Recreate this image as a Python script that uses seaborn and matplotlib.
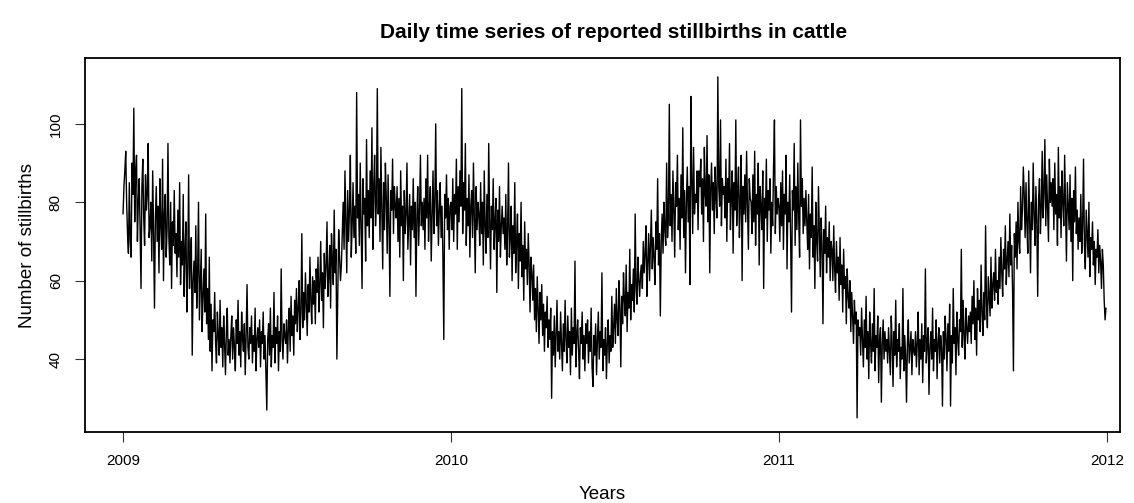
import numpy as np
import pandas as pd
import matplotlib
matplotlib.use("Agg")
import matplotlib.pyplot as plt
import seaborn as sns

# Daily reported stillbirths
stillbirths_2009 = [
    # Jan
    77, 84, 88, 93, 80, 72, 67, 85, 70, 66, 90, 82, 104, 75, 88, 92, 70, 80, 86, 73,
    58, 84, 91, 76, 69, 87, 78, 82, 95, 71, 74,
    # Feb
    80, 65, 88, 72, 53, 76, 84, 70, 79, 62, 86, 74, 68, 91, 60, 77, 82, 66, 73, 95,
    71, 64, 80, 58, 75, 69, 83, 67,
    # Mar
    72, 61, 78, 66, 85, 59, 70, 64, 82, 56, 68, 75, 52, 63, 87, 58, 66, 71, 41, 60,
    65, 57, 74, 53, 62, 80, 50, 59, 68, 47, 56,
    # Apr
    63, 52, 77, 49, 58, 45, 66, 42, 54, 37, 50, 47, 57, 44, 39, 52, 46, 41, 55, 43,
    48, 38, 51, 44, 36, 47, 53, 41, 45, 39,
    # May
    46, 51, 40, 48, 43, 37, 50, 44, 55, 41, 47, 38, 52, 45, 42, 49, 36, 46, 59, 43,
    40, 48, 44, 51, 39, 46, 42, 53, 37, 45, 48,
    # Jun
    43, 50, 38, 47, 44, 52, 40, 46, 36, 27, 45, 49, 41, 53, 38, 46, 43, 57, 39, 48,
    44, 51, 37, 47, 42, 63, 45, 40, 49, 46,
    # Jul
    44, 50, 39, 48, 53, 42, 56, 46, 51, 41, 55, 49, 58, 47, 53, 60, 45, 52, 72, 48,
    57, 50, 62, 54, 46, 59, 52, 66, 55, 49, 61,
    # Aug
    54, 60, 49, 63, 57, 66, 52, 59, 70, 55, 62, 48, 67, 58, 64, 75, 56, 61, 69, 53,
    72, 65, 59, 78, 62, 68, 40, 57, 73, 66, 60,
    # Sep
    64, 72, 80, 68, 88, 75, 62, 83, 70, 78, 92, 66, 74, 85, 71, 79, 67, 108, 76, 82,
    69, 90, 73, 58, 86, 77, 81, 65, 96, 74,
    # Oct
    83, 71, 88, 76, 99, 68, 84, 92, 74, 80, 109, 77, 86, 70, 94, 79, 63, 85, 73, 90,
    81, 67, 87, 75, 56, 83, 78, 91, 72, 84, 79,
    # Nov
    76, 84, 70, 81, 66, 88, 74, 79, 60, 83, 72, 77, 90, 68, 75, 82, 64, 79, 73, 86,
    71, 80, 56, 76, 84, 69, 78, 92, 74, 80,
    # Dec
    73, 81, 68, 86, 76, 92, 70, 79, 84, 65, 77, 88, 72, 80, 100, 74, 83, 69, 78, 85,
    71, 79, 66, 45, 82, 76, 87, 73, 81, 68, 79,
]

stillbirths_2010 = [
    # Jan
    80, 73, 86, 70, 82, 77, 91, 68, 84, 75, 88, 79, 109, 72, 85, 78, 95, 69, 81, 74,
    87, 66, 79, 83, 71, 90, 76, 62, 84, 73, 80,
    # Feb
    77, 69, 85, 72, 80, 64, 88, 74, 67, 82, 71, 95, 76, 63, 79, 73, 86, 68, 75, 81,
    57, 78, 70, 84, 66, 74, 79, 72,
    # Mar
    76, 68, 82, 64, 73, 90, 66, 71, 79, 60, 74, 67, 85, 62, 70, 77, 58, 72, 65, 80,
    61, 69, 55, 75, 63, 68, 59, 72, 64, 52, 66,
    # Apr
    62, 55, 64, 50, 58, 47, 61, 53, 44, 57, 50, 59, 46, 54, 42, 52, 48, 56, 43, 50,
    45, 53, 30, 47, 41, 51, 38, 46, 55, 42,
    # May
    47, 40, 52, 44, 37, 49, 42, 55, 45, 39, 51, 43, 47, 36, 53, 41, 48, 44, 65, 38,
    46, 50, 42, 35, 48, 44, 52, 40, 46, 37, 49,
    # Jun
    44, 50, 39, 47, 42, 53, 38, 33, 46, 41, 49, 36, 45, 52, 40, 47, 43, 62, 37, 45,
    41, 48, 35, 44, 50, 39, 46, 42, 56, 43,
    # Jul
    48, 54, 44, 58, 50, 46, 60, 53, 38, 56, 49, 62, 55, 51, 64, 47, 57, 53, 68, 50,
    59, 55, 63, 52, 77, 58, 54, 66, 60, 56, 62,
    # Aug
    64, 58, 70, 62, 67, 74, 56, 65, 72, 60, 69, 78, 63, 71, 66, 59, 75, 68, 86, 64,
    72, 51, 70, 77, 67, 80, 73, 69, 90, 71, 76,
    # Sep
    105, 74, 82, 70, 88, 78, 66, 85, 79, 92, 73, 81, 68, 87, 76, 99, 71, 83, 62, 80,
    89, 75, 84, 59, 107, 86, 72, 94, 77, 82,
    # Oct
    80, 88, 73, 88, 84, 91, 77, 86, 70, 94, 82, 79, 97, 75, 87, 62, 83, 90, 78, 85,
    72, 89, 81, 76, 112, 84, 79, 101, 74, 86, 82,
    # Nov
    84, 76, 91, 70, 86, 80, 95, 73, 82, 88, 67, 85, 78, 101, 74, 83, 89, 71, 80, 92,
    60, 84, 77, 87, 75, 93, 79, 68, 86, 81,
    # Dec
    80, 72, 87, 75, 93, 69, 82, 77, 90, 64, 84, 79, 73, 88, 58, 81, 76, 91, 70, 83,
    78, 86, 67, 80, 74, 89, 101, 72, 84, 77, 81,
]

stillbirths_2011 = [
    # Jan
    79, 70, 85, 74, 88, 68, 82, 77, 92, 63, 80, 75, 87, 71, 52, 83, 78, 95, 69, 84,
    73, 90, 76, 66, 101, 79, 86, 72, 81, 74, 83,
    # Feb
    75, 68, 82, 63, 77, 71, 89, 66, 74, 58, 80, 70, 65, 84, 72, 61, 76, 69, 49, 73,
    67, 79, 62, 71, 66, 75, 60, 70,
    # Mar
    68, 60, 74, 63, 57, 70, 62, 66, 55, 71, 59, 64, 52, 68, 58, 61, 49, 63, 56, 53,
    60, 47, 57, 51, 44, 55, 49, 52, 25, 50, 46,
    # Apr
    48, 41, 53, 45, 38, 50, 43, 56, 40, 47, 35, 52, 44, 39, 49, 42, 58, 37, 46, 43,
    51, 34, 45, 48, 29, 44, 50, 40, 47, 42,
    # May
    45, 39, 48, 42, 36, 51, 44, 33, 47, 41, 55, 38, 45, 42, 49, 35, 43, 40, 58, 37,
    46, 41, 29, 44, 50, 39, 43, 47, 36, 45, 42,
    # Jun
    41, 47, 38, 44, 52, 36, 45, 40, 49, 34, 46, 42, 63, 39, 44, 48, 31, 43, 47, 40,
    53, 37, 45, 42, 50, 35, 44, 48, 39, 46,
    # Jul
    43, 28, 47, 40, 51, 45, 37, 49, 42, 54, 28, 46, 39, 58, 44, 48, 36, 52, 45, 41,
    50, 47, 68, 43, 55, 46, 40, 53, 48, 44, 51,
    # Aug
    47, 52, 44, 56, 49, 60, 45, 53, 41, 58, 50, 55, 47, 64, 52, 46, 57, 50, 74, 54,
    48, 61, 56, 51, 66, 53, 59, 62, 55, 68, 57,
    # Sep
    60, 54, 66, 58, 71, 62, 56, 68, 63, 74, 59, 65, 70, 61, 77, 64, 69, 58, 37, 72,
    66, 75, 63, 80, 70, 67, 84, 73, 78, 89,
    # Oct
    82, 71, 85, 74, 67, 88, 76, 62, 80, 73, 90, 77, 69, 84, 75, 56, 81, 86, 72, 79,
    93, 76, 83, 96, 74, 87, 78, 70, 91, 80, 85,
    # Nov
    79, 86, 73, 90, 77, 82, 69, 94, 76, 84, 71, 88, 80, 74, 92, 78, 65, 85, 79, 73,
    87, 70, 81, 60, 83, 75, 89, 72, 78, 68,
    # Dec
    76, 70, 82, 67, 74, 91, 69, 63, 78, 72, 66, 80, 61, 71, 68, 75, 64, 70, 59, 68,
    66, 73, 62, 69, 65, 58, 68, 64, 55, 50, 53,
]

years = [2009, 2010, 2011]
year_ticks = [2009, 2010, 2011, 2012]
y_ticks = [40, 60, 80, 100]

frames = []
for yr, vals in zip(years, [stillbirths_2009, stillbirths_2010, stillbirths_2011]):
    n = len(vals)
    frames.append(pd.DataFrame({"time": yr + np.arange(n) / 365.0, "count": vals}))
df = pd.concat(frames, ignore_index=True)

sns.set_style("ticks")
plt.rcParams["font.family"] = ["Liberation Sans", "DejaVu Sans"]
plt.rcParams["text.color"] = "black"
plt.rcParams["axes.labelcolor"] = "black"
plt.rcParams["xtick.color"] = "black"
plt.rcParams["ytick.color"] = "black"

fig = plt.figure(figsize=(11.34, 5.03), dpi=100)
ax = fig.add_axes([85 / 1134, 1 - 432 / 503, (1120 - 85) / 1134, (432 - 58) / 503])

sns.lineplot(data=df, x="time", y="count", color="black", linewidth=1.0, ax=ax)

ax.set_xlim(2008.884, 2012.04)
ax.set_ylim(21.4, 116.8)
ax.set_xticks(year_ticks)
ax.set_xticklabels([str(t) for t in year_ticks], fontsize=11)
ax.set_yticks(y_ticks)
ax.set_yticklabels([str(t) for t in y_ticks], fontsize=11, rotation=90, va="center")
ax.tick_params(axis="both", length=7, width=0.8, color="#333333", pad=9, labelcolor="black")

for s in ax.spines.values():
    s.set_visible(True)
    s.set_linewidth(1.3)
    s.set_color("black")

ax.set_xlabel("Years", fontsize=13.5, labelpad=13)
ax.set_ylabel("Number of stillbirths", fontsize=13.5, labelpad=9)
fig.text(614 / 1134, 1 - 32 / 503, "Daily time series of reported stillbirths in cattle",
         ha="center", va="center", fontsize=15, fontweight="bold", color="black")

fig.savefig("out.png", dpi=100)
